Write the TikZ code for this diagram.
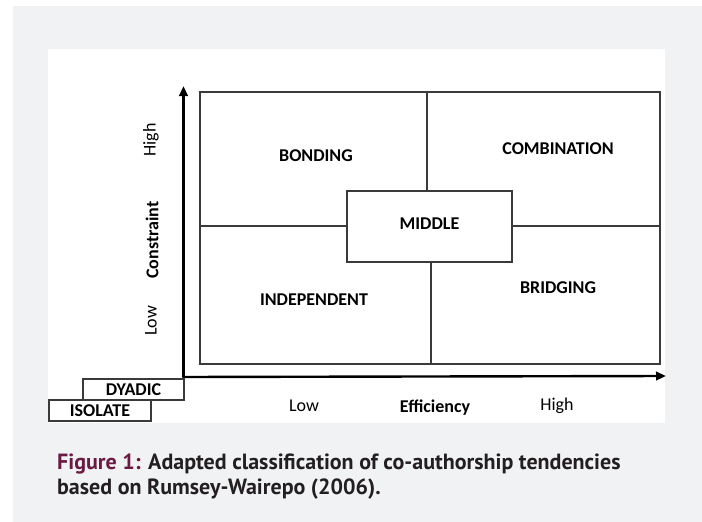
\documentclass[tikz,border=0pt]{standalone}
\usepackage{fontspec}
\setmainfont{Carlito}
\newfontfamily\capfont{PT Sans}
\usetikzlibrary{arrows.meta}
\definecolor{bggray}{HTML}{F1F2F4}
\definecolor{capred}{HTML}{6B1A42}
\definecolor{captext}{HTML}{231F20}
\definecolor{boxline}{HTML}{3A3A3A}
\begin{document}
\begin{tikzpicture}[x=1pt,y=-1pt,
  boxl/.style={draw=boxline, line width=1.2pt},
  cell/.style={inner sep=0pt, font=\fontsize{18}{20}\selectfont\bfseries},
  lab/.style={inner sep=0pt, font=\fontsize{18}{20}\selectfont},
  axis/.style={line width=2.4pt, -{Triangle[length=10pt,width=8.5pt]}},
  smallbox/.style={boxl, fill=white, inner sep=0pt, minimum height=21pt, font=\fontsize{18}{20}\selectfont\bfseries},
  captxt/.style={anchor=base west, inner sep=0pt, text=captext, font=\capfont\bfseries\fontsize{22}{26}\selectfont}]
\useasboundingbox (0,0) rectangle (702,522);
\fill[white] (0,0) rectangle (702,522);
\fill[bggray] (13,6) rectangle (702,522);
\fill[white] (48,49) rectangle (665,423);
% frame
\node[boxl, minimum width=460pt, minimum height=272pt, inner sep=0pt] (frame) at (430,228) {};
\node[boxl, minimum width=165pt, minimum height=71pt, inner sep=0pt] (middlebox) at (429.5,226.5) {};
\node[cell] (middle) at (429.5,224) {MIDDLE};
\coordinate (topc) at (427,92);
\coordinate (botc) at (431,364);
\coordinate (leftc) at (200,226);
\coordinate (rightc) at (660,226);
\draw[boxl] (topc) -- (topc |- middlebox.north);
\draw[boxl] (botc) -- (botc |- middlebox.south);
\draw[boxl] (leftc) -- (leftc -| middlebox.west);
\draw[boxl] (rightc) -- (rightc -| middlebox.east);
% cell labels
\node[cell] (bonding) at (316,156) {BONDING};
\node[cell] (combination) at (558,149) {COMBINATION};
\node[cell] (independent) at (314,300) {INDEPENDENT};
\node[cell] (bridging) at (558,288) {BRIDGING};
% axes
\coordinate (origin) at (183.5,377);
\coordinate (ytip) at (183.5,86);
\coordinate (xtip) at (666,376);
\draw[axis] (origin) -- (ytip);
\draw[axis] ([xshift=-1.2pt]origin) -- (xtip);
% y labels
\node[lab, rotate=90] (yhigh) at (151,140) {High};
\node[lab, rotate=90, font=\fontsize{18}{20}\selectfont\bfseries] (constraint) at (152,240) {Constraint};
\node[lab, rotate=90] (ylow) at (151,321) {Low};
% x labels
\node[lab] (xlow) at (304,406) {Low};
\node[lab, font=\fontsize{18}{20}\selectfont\bfseries] (efficiency) at (435,408) {Efficiency};
\node[lab] (xhigh) at (557,406) {High};
% small boxes
\node[smallbox, minimum width=101pt] (dyadic) at (133.5,389.5) {DYADIC};
\node[smallbox, minimum width=102pt] (isolate) at (100,410.5) {ISOLATE};
% caption
\node[captxt] (cap1) at (57,469) {\textcolor{capred}{Figure 1:} Adapted classification of co-authorship tendencies};
\node[captxt] (cap2) at (57,494) {based on Rumsey-Wairepo (2006).};
\end{tikzpicture}
\end{document}
